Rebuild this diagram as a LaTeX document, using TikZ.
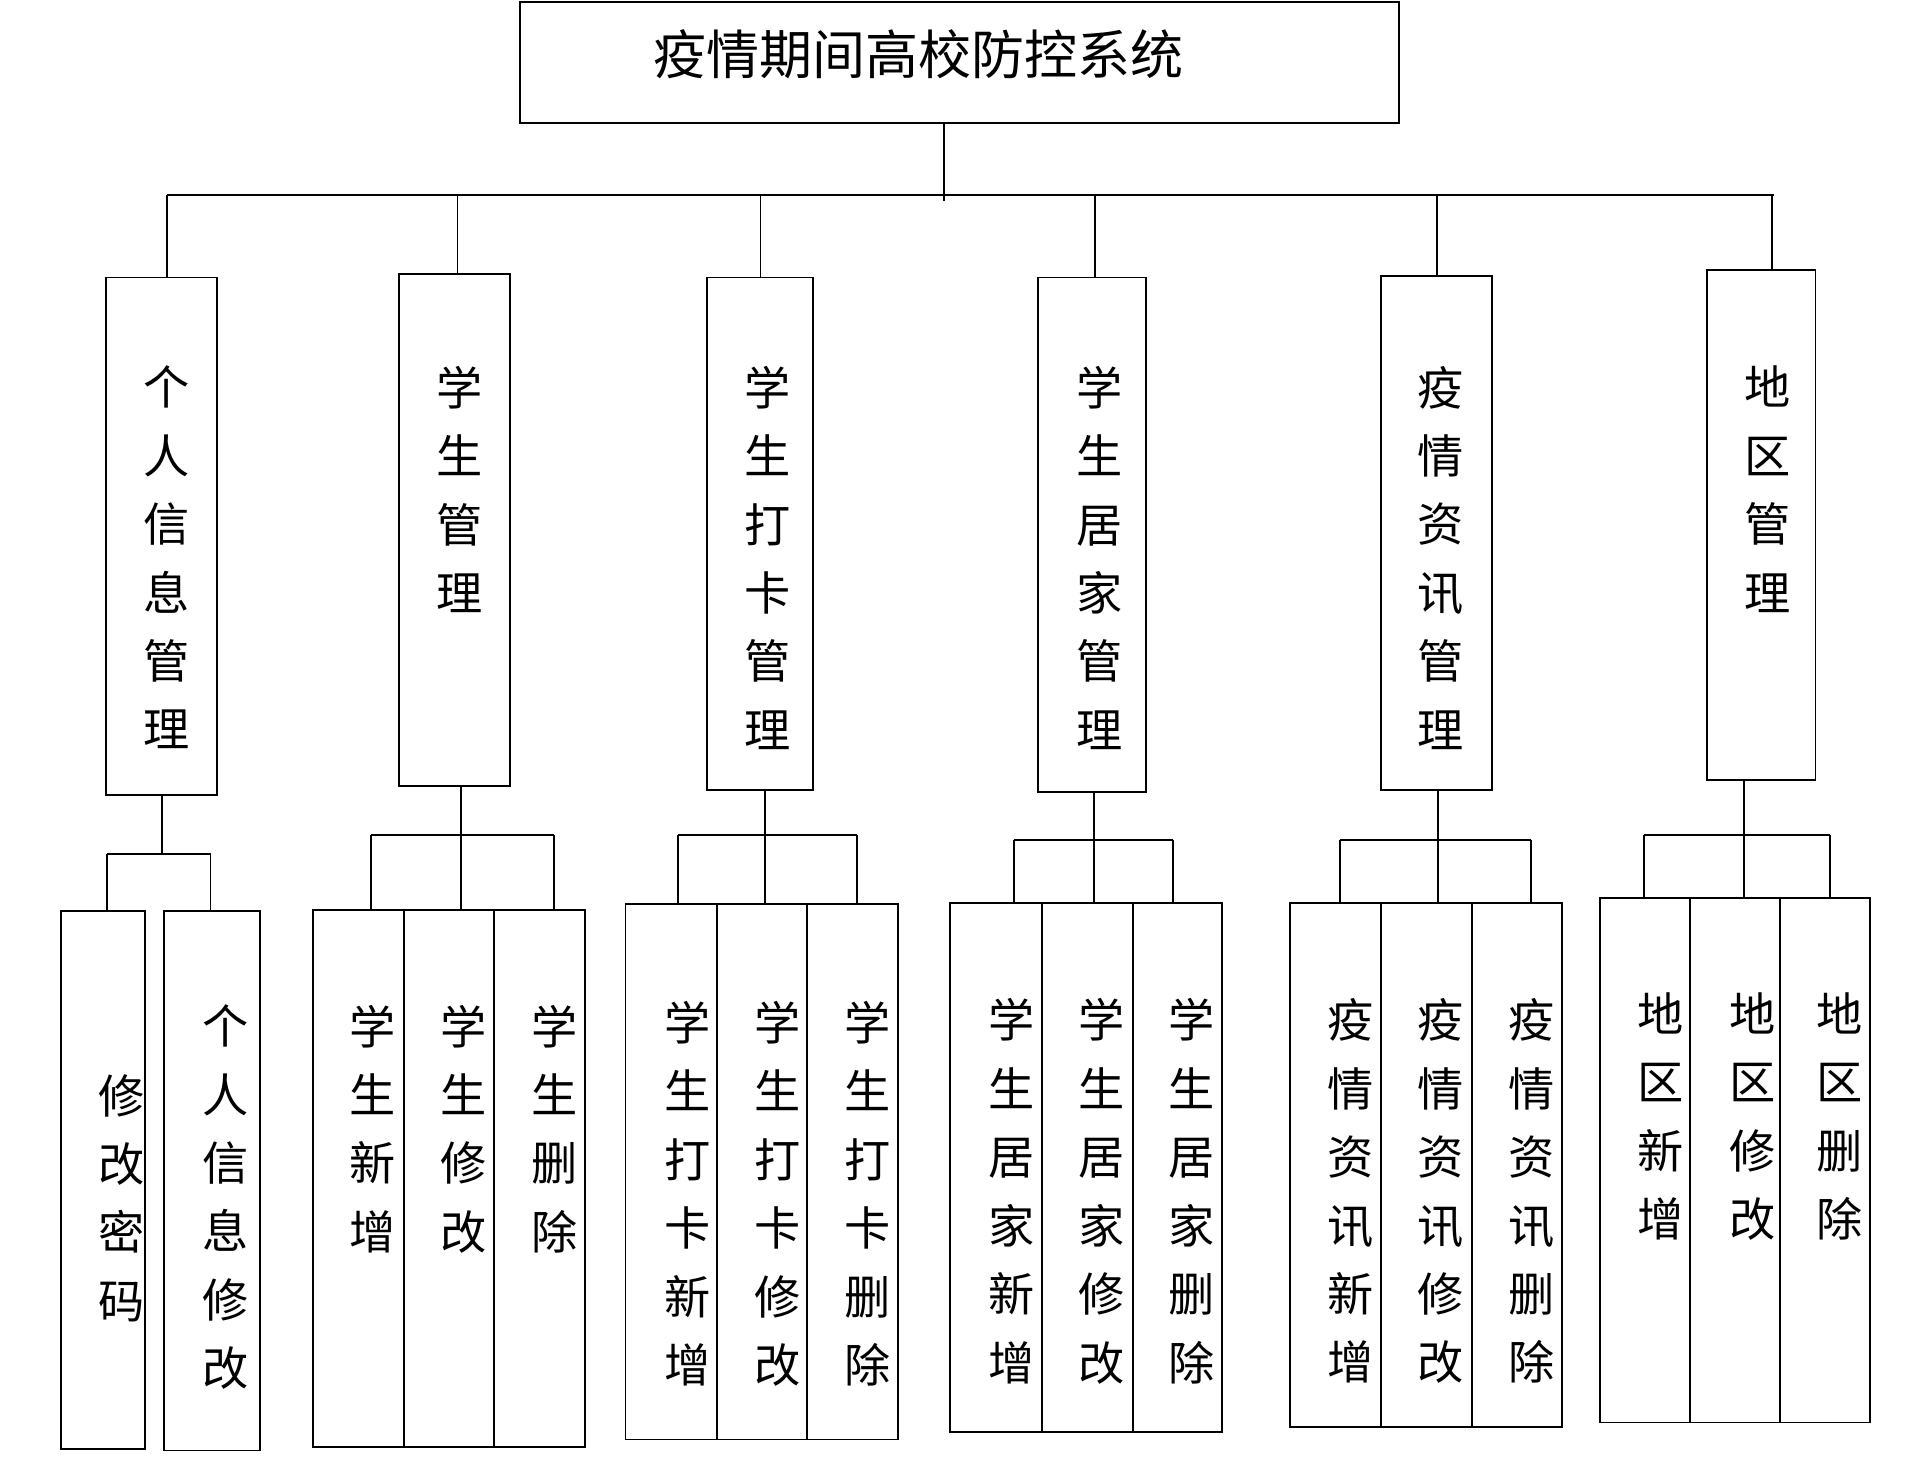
\documentclass[tikz,border=0pt]{standalone}
\usepackage{fontspec}
\setmainfont{Noto Sans CJK SC}
\begin{document}
\begin{tikzpicture}[x=0.25mm,y=-0.25mm,line width=1.1pt]
	\tikzstyle{box}=[draw=black,inner sep=0pt]
	\tikzstyle{txt}=[anchor=north,inner sep=0pt,align=center,font=\fontsize{27}{40}\selectfont]
	\newcommand{\boxat}[5]{\node[box,minimum width=(#4-#2)*0.25mm,minimum height=(#5-#3)*0.25mm] (#1) at ({(#2+#4)/2},{(#3+#5)/2}) {};}
	\useasboundingbox (0,0) rectangle (1568,1205);
	
	% title
	\boxat{top}{427}{2}{1150}{101}
	\node[font=\fontsize{31}{36}\selectfont] (title) at (755,45) {疫情期间高校防控系统};
	\coordinate (bl) at (137,160);
	\coordinate (br) at (1458,160);
	\draw (bl) -- (br);
	\draw (top.south -| 776,0) -- (776,165);
	
	% second level
	\boxat{m1}{87}{228}{178}{653}
	\boxat{m2}{328}{225}{419}{646}
	\boxat{m3}{581}{228}{668}{649}
	\boxat{m4}{853}{228}{942}{651}
	\boxat{m5}{1135}{227}{1226}{649}
	\boxat{m6}{1403}{222}{1492}{641}
	\foreach \m/\x in {m1/137,m2/376,m3/625,m4/900,m5/1181,m6/1456}
		\draw (\x,160) -- (\m.north -| \x,0);
	\node[txt] (t1) at (137,300) {个\\人\\信\\息\\管\\理};
	\node[txt] (t2) at (378,300) {学\\生\\管\\理};
	\node[txt] (t3) at (631,300) {学\\生\\打\\卡\\管\\理};
	\node[txt] (t4) at (904,300) {学\\生\\居\\家\\管\\理};
	\node[txt] (t5) at (1184,300) {疫\\情\\资\\讯\\管\\理};
	\node[txt] (t6) at (1453,300) {地\\区\\管\\理};
	
	% third level
	\boxat{a1}{50}{749}{119}{1191}
	\boxat{a2}{135}{749}{214}{1192}
	\draw (m1.south -| 133,0) -- (133,702);
	\draw (88,702) -- (173,702);
	\draw (88,702) -- (a1.north -| 88,0);
	\draw (173,702) -- (a2.north -| 173,0);
	\node[txt] at (100,882) {修\\改\\密\\码};
	\node[txt] at (185,825) {个\\人\\信\\息\\修\\改};
	
	\boxat{b1}{257}{748}{332}{1189}
	\boxat{b2}{332}{748}{406}{1189}
	\boxat{b3}{406}{748}{481}{1189}
	\draw (m2.south -| 379,0) -- (b2.north -| 379,0);
	\draw (305,686) -- (455,686);
	\draw (305,686) -- (b1.north -| 305,0);
	\draw (455,686) -- (b3.north -| 455,0);
	\node[txt] at (306,825) {学\\生\\新\\增};
	\node[txt] at (381,825) {学\\生\\修\\改};
	\node[txt] at (456,825) {学\\生\\删\\除};
	
	\boxat{c1}{514}{743}{589}{1183}
	\boxat{c2}{589}{743}{663}{1183}
	\boxat{c3}{663}{743}{738}{1183}
	\draw (m3.south -| 629,0) -- (c2.north -| 629,0);
	\draw (557,686) -- (704,686);
	\draw (557,686) -- (c1.north -| 557,0);
	\draw (704,686) -- (c3.north -| 704,0);
	\node[txt] at (565,822) {学\\生\\打\\卡\\新\\增};
	\node[txt] at (639,822) {学\\生\\打\\卡\\修\\改};
	\node[txt] at (713,822) {学\\生\\打\\卡\\删\\除};
	
	\boxat{d1}{781}{742}{856}{1177}
	\boxat{d2}{856}{742}{931}{1177}
	\boxat{d3}{931}{742}{1004}{1177}
	\draw (m4.south -| 899,0) -- (d2.north -| 899,0);
	\draw (833,690) -- (964,690);
	\draw (833,690) -- (d1.north -| 833,0);
	\draw (964,690) -- (d3.north -| 964,0);
	\node[txt] at (831,820) {学\\生\\居\\家\\新\\增};
	\node[txt] at (905,820) {学\\生\\居\\家\\修\\改};
	\node[txt] at (979,820) {学\\生\\居\\家\\删\\除};
	
	\boxat{e1}{1060}{742}{1135}{1173}
	\boxat{e2}{1135}{742}{1210}{1173}
	\boxat{e3}{1210}{742}{1284}{1173}
	\draw (m5.south -| 1182,0) -- (e2.north -| 1182,0);
	\draw (1101,690) -- (1258,690);
	\draw (1101,690) -- (e1.north -| 1101,0);
	\draw (1258,690) -- (e3.north -| 1258,0);
	\node[txt] at (1110,820) {疫\\情\\资\\讯\\新\\增};
	\node[txt] at (1184,820) {疫\\情\\资\\讯\\修\\改};
	\node[txt] at (1259,820) {疫\\情\\资\\讯\\删\\除};
	
	\boxat{f1}{1315}{738}{1389}{1169}
	\boxat{f2}{1389}{738}{1463}{1169}
	\boxat{f3}{1463}{738}{1537}{1169}
	\draw (m6.south -| 1433,0) -- (f2.north -| 1433,0);
	\draw (1351,686) -- (1504,686);
	\draw (1351,686) -- (f1.north -| 1351,0);
	\draw (1504,686) -- (f3.north -| 1504,0);
	\node[txt] at (1365,815) {地\\区\\新\\增};
	\node[txt] at (1440,815) {地\\区\\修\\改};
	\node[txt] at (1512,815) {地\\区\\删\\除};
\end{tikzpicture}
\end{document}
